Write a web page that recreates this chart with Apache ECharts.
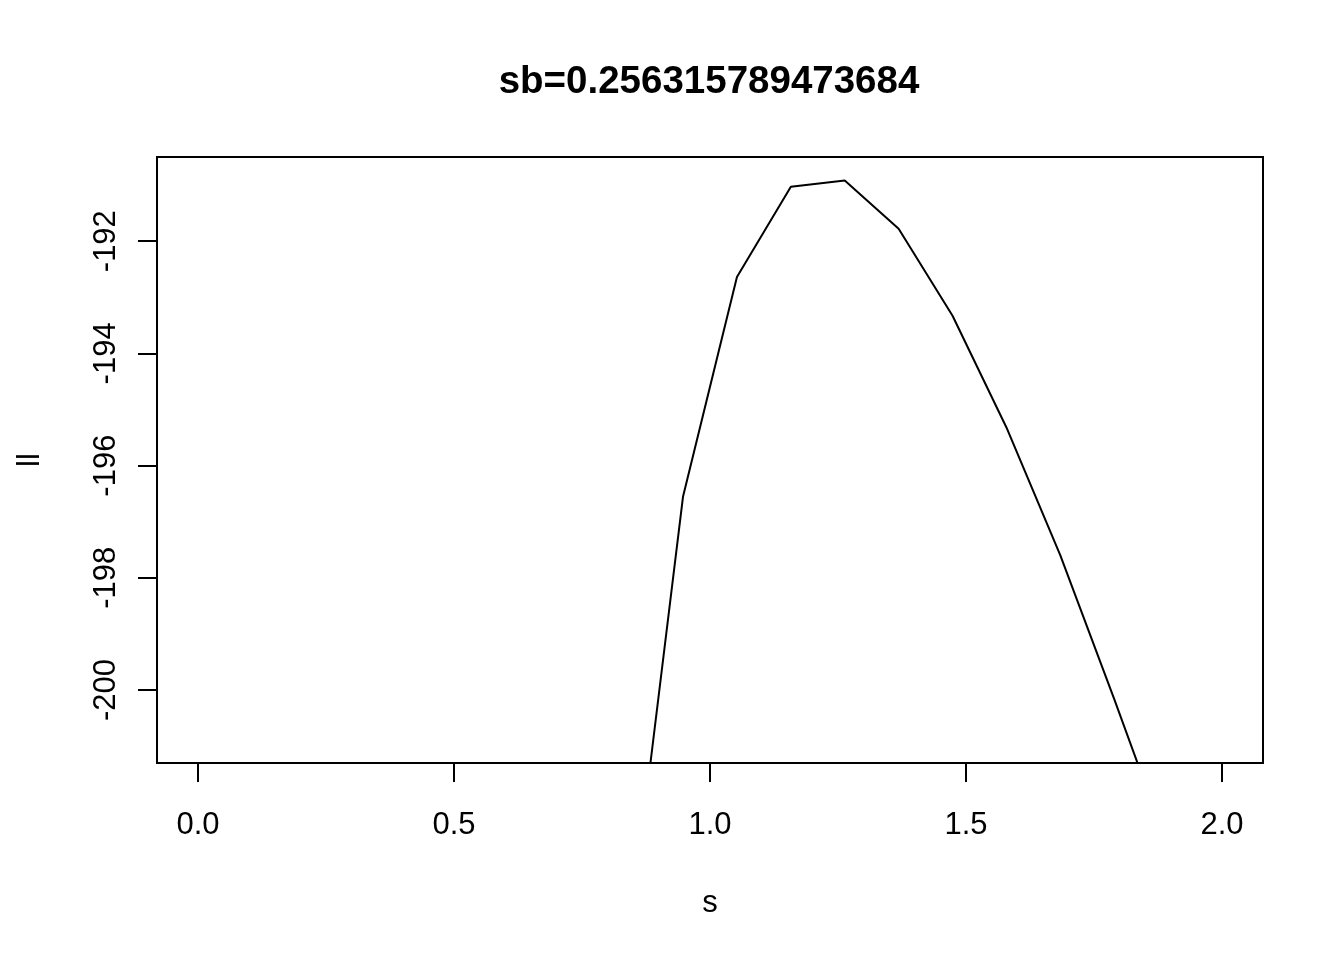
<!DOCTYPE html>
<html><head><meta charset="utf-8">
<script src="https://cdn.jsdelivr.net/npm/echarts@6/dist/echarts.min.js"></script>
<style>html,body{margin:0;padding:0;background:#fff}#c{width:1344px;height:960px}</style>
</head><body><div id="c"></div>
<script>
const titleText = 'sb=0.256315789473684';
const xName = 's';
const yName = 'll';
const sValues = [0, 0.10526, 0.21053, 0.31579, 0.42105, 0.52632, 0.63158, 0.73684, 0.84211, 0.94737,
  1.05263, 1.15789, 1.26316, 1.36842, 1.47368, 1.57895, 1.68421, 1.78947, 1.89474, 2];
const llValues = [-900, -640, -470, -360, -290, -245, -222, -210, -204.4, -196.55,
  -192.64, -191.03, -190.92, -191.78, -193.33, -195.32, -197.6, -200.16, -202.8, -205.6];
const xTicks = [0, 0.5, 1, 1.5, 2];
const yTicks = [-200, -198, -196, -194, -192];

const font = '"Liberation Sans", Arial, Helvetica, sans-serif';
const chart = echarts.init(document.getElementById('c'), null, {renderer: 'canvas'});
chart.setOption({
  animation: false,
  backgroundColor: '#fff',
  title: {
    text: titleText, left: 704, top: 58, textAlign: 'center',
    textStyle: {fontFamily: font, fontWeight: 'bold', fontSize: 38.5, color: '#000'}
  },
  grid: {left: 157, top: 157, width: 1106, height: 606, show: true, borderColor: '#000', borderWidth: 2,
    backgroundColor: 'transparent', containLabel: false, outerBoundsMode: 'none'},
  xAxis: {
    type: 'value', min: -0.08, max: 2.08,
    name: xName, nameLocation: 'middle', nameGap: 125,
    nameTextStyle: {fontFamily: font, fontSize: 31, color: '#000'},
    axisLine: {show: false, onZero: false},
    splitLine: {show: false},
    axisTick: {show: true, customValues: xTicks, length: 19, inside: false, lineStyle: {color: '#000', width: 2}},
    axisLabel: {show: true, customValues: xTicks, margin: 47, formatter: v => v.toFixed(1),
      fontFamily: font, fontSize: 31, color: '#000'}
  },
  yAxis: {
    type: 'value', min: -201.3, max: -190.5,
    name: yName, nameLocation: 'middle', nameGap: 111,
    nameTextStyle: {fontFamily: font, fontSize: 31, color: '#000'},
    axisLine: {show: false, onZero: false},
    splitLine: {show: false},
    axisTick: {show: true, customValues: yTicks, length: 19, inside: false, lineStyle: {color: '#000', width: 2}},
    axisLabel: {show: true, customValues: yTicks, margin: 35, rotate: 90, formatter: v => String(v),
      fontFamily: font, fontSize: 31, color: '#000'}
  },
  series: [{
    type: 'line', data: sValues.map((s, i) => [s, llValues[i]]),
    showSymbol: false, clip: true,
    lineStyle: {color: '#000', width: 2}
  }]
});
</script></body></html>
